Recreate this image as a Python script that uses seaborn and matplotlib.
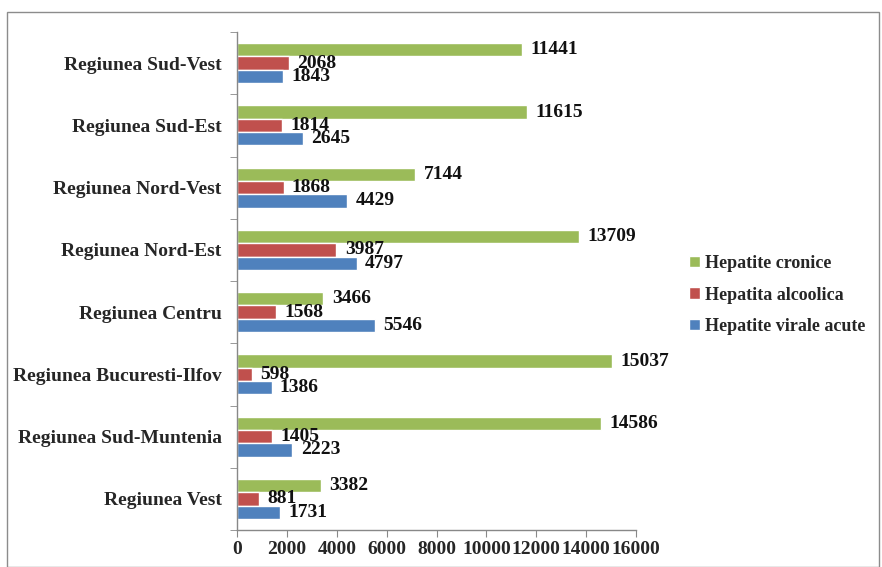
import matplotlib
matplotlib.use("Agg")
import matplotlib.pyplot as plt
from matplotlib.patches import Rectangle
from matplotlib.ticker import FixedLocator
import seaborn as sns
import pandas as pd

regions = [
    "Regiunea Sud-Vest",
    "Regiunea Sud-Est",
    "Regiunea Nord-Vest",
    "Regiunea Nord-Est",
    "Regiunea Centru",
    "Regiunea Bucuresti-Ilfov",
    "Regiunea Sud-Muntenia",
    "Regiunea Vest",
]
series = ["Hepatite cronice", "Hepatita alcoolica", "Hepatite virale acute"]
hepatite_cronice = [11441, 11615, 7144, 13709, 3466, 15037, 14586, 3382]
hepatita_alcoolica = [2068, 1814, 1868, 3987, 1568, 598, 1405, 881]
hepatite_virale_acute = [1843, 2645, 4429, 4797, 5546, 1386, 2223, 1731]
x_ticks = [0, 2000, 4000, 6000, 8000, 10000, 12000, 14000, 16000]

colors = ["#9BBB59", "#C0504D", "#4F81BD"]

rows = []
for name, vals in zip(series, [hepatite_cronice, hepatita_alcoolica, hepatite_virale_acute]):
    for reg, v in zip(regions, vals):
        rows.append({"Regiune": reg, "Serie": name, "Cazuri": v})
df = pd.DataFrame(rows)

sns.set_style("white")
plt.rcParams["font.family"] = ["Liberation Serif", "DejaVu Serif"]
plt.rcParams["font.weight"] = "bold"

fig = plt.figure(figsize=(8.82, 5.67), dpi=100)
ax = fig.add_axes([237 / 882, 1 - 530 / 567, (636 - 237) / 882, (530 - 32) / 567])

sns.barplot(data=df, y="Regiune", x="Cazuri", hue="Serie", order=regions,
            hue_order=series, palette=colors, orient="h", width=0.64,
            saturation=1, errorbar=None, legend=True, ax=ax)

for cont in ax.containers:
    ax.bar_label(cont, labels=[f"{int(v)}" for v in cont.datavalues], padding=6,
                 fontsize=14, fontweight="bold", color="#111111")

ax.set_xlim(0, 16000)
ax.set_ylim(len(regions) - 0.5, -0.5)
ax.set_xticks(x_ticks)
ax.set_xticklabels([str(t) for t in x_ticks], fontsize=14, fontweight="bold")
ax.set_yticks(range(len(regions)))
ax.set_yticklabels(regions, fontsize=14, fontweight="bold")
ax.yaxis.set_minor_locator(FixedLocator([i - 0.5 for i in range(len(regions) + 1)]))
ax.tick_params(axis="y", which="major", length=0, pad=11)
ax.tick_params(axis="y", which="minor", length=5, direction="out", color="#888888", left=True)
ax.tick_params(axis="x", which="major", length=5, direction="out", color="#888888", bottom=True, pad=3)
ax.set_xlabel("")
ax.set_ylabel("")

for side in ["top", "right"]:
    ax.spines[side].set_visible(False)
for side in ["left", "bottom"]:
    ax.spines[side].set_color("#888888")
    ax.spines[side].set_linewidth(1.0)

handles, labels = ax.get_legend_handles_labels()
ax.get_legend().remove()
fig.legend(handles, labels, loc="center left", bbox_to_anchor=(689 / 882, 1 - 295 / 567),
           frameon=False, borderpad=0, borderaxespad=0, handlelength=0.6, handleheight=0.6,
           handletextpad=0.3, labelspacing=0.8, prop={"size": 13, "weight": "bold"})

fig.patches.append(Rectangle((7 / 882, 0), (879 - 7) / 882, 1 - 12 / 567,
                             transform=fig.transFigure, fill=False,
                             edgecolor="#8c8c8c", linewidth=1.0))

fig.savefig("out.png", dpi=100)
